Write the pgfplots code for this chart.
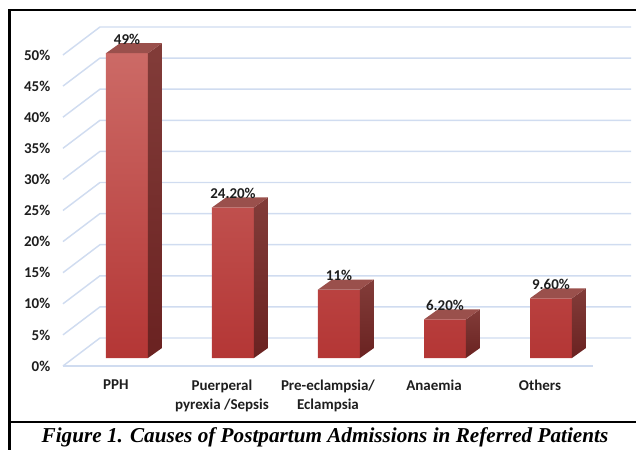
\documentclass[border=0pt]{standalone}
\usepackage{pgfplots}
\usepackage{pgfplotstable}
\pgfplotsset{compat=1.18}
\usepackage{fontspec}
\newfontfamily\carlito{Carlito}
\newfontfamily\capserif{Liberation Serif}

\definecolor{fronttop}{RGB}{204,106,102}
\definecolor{frontbot}{RGB}{180,54,53}
\definecolor{sidetop}{RGB}{130,60,57}
\definecolor{sidebot}{RGB}{106,34,33}
\definecolor{topface}{RGB}{154,80,76}
\definecolor{gridblue}{RGB}{208,220,240}
\definecolor{txt}{RGB}{30,30,30}

\pgfplotstableread{
x val label
0 49 49\%
1 24.2 24.20\%
2 11 11\%
3 6.2 6.20\%
4 9.6 9.60\%
}\causes

\def\hw{0.198}
\def\dx{0.132}
\def\dy{1.608}

\begin{document}
\begin{tikzpicture}
\begin{axis}[
  x=79.5pt, y=4.665pt,
  xmin=-0.68, xmax=4.76, ymin=-1.286, ymax=53.3,
  axis x line*=bottom, axis y line*=left,
  axis line style={draw=none,-},
  major tick length=0pt,
  clip=false,
  ytick={-1.286,3.714,8.714,13.714,18.714,23.714,28.714,33.714,38.714,43.714,48.714},
  yticklabels={0\%,5\%,10\%,15\%,20\%,25\%,30\%,35\%,40\%,45\%,50\%},
  xtick={-0.104,0.896,1.896,2.896,3.896},
  xticklabels={PPH,{Puerperal\\pyrexia /Sepsis},{Pre-eclampsia/\\Eclampsia},Anaemia,Others},
  tick label style={font=\carlito\bfseries\fontsize{11.25}{14.5}\selectfont, text=txt},
  xticklabel style={align=center, yshift=-7pt},
]
% gridlines (back wall + left wall)
\pgfplotsinvokeforeach{0,5,...,50}{
  \draw[gridblue, line width=1.1pt] (axis cs:-0.604,{#1-1.286}) -- (axis cs:-0.255,{#1+3.215}) -- (axis cs:4.755,{#1+3.215});
}
\draw[gridblue, line width=1.1pt] (axis cs:-0.604,-1.286) -- (axis cs:4.396,-1.286);

% front faces
\addplot[ybar, bar width=0.396, draw=none, top color=fronttop, bottom color=frontbot, forget plot] table[x=x, y=val] {\causes};

% side and top faces
\pgfplotsforeachungrouped \i in {0,...,4}{%
  \pgfplotstablegetelem{\i}{val}\of\causes
  \pgfmathsetmacro\va{\pgfplotsretval}%
  \pgfmathsetmacro\xl{\i-\hw}%
  \pgfmathsetmacro\xr{\i+\hw}%
  \pgfmathsetmacro\xrr{\i+\hw+\dx}%
  \pgfmathsetmacro\xlr{\i-\hw+\dx}%
  \pgfmathsetmacro\vb{\va+\dy}%
  \edef\cmd{\noexpand\addplot[forget plot, draw=none, mark=none, top color=sidetop, bottom color=sidebot] coordinates {(\xr,0) (\xrr,\dy) (\xrr,\vb) (\xr,\va)};%
    \noexpand\addplot[forget plot, draw=none, mark=none, fill=topface] coordinates {(\xl,\va) (\xr,\va) (\xrr,\vb) (\xlr,\vb)};}%
  \cmd
}

% data labels
\addplot[draw=none, mark=none, forget plot, nodes near coords, point meta=explicit symbolic,
  every node near coord/.style={anchor=center, yshift=10.5pt, font=\carlito\bfseries\fontsize{11.25}{14}\selectfont, text=txt}]
  table[x=x, y=val, meta=label] {\causes};

% frame and caption
\draw[black, line width=1.7pt, line join=miter] (axis cs:4.802,55.95) -- (axis cs:-1.1085,55.95) -- (axis cs:-1.1085,-14.791);
\draw[black, line width=1.7pt] (axis cs:-1.1085,-10.29) -- (axis cs:4.802,-10.29);
\node[font=\capserif\bfseries\itshape\fontsize{15.9}{17}\selectfont] at (axis cs:1.868,-12.75) {Figure 1. Causes of Postpartum Admissions in Referred Patients};

\coordinate (bl) at (axis cs:-1.198,-14.791);
\coordinate (tr) at (axis cs:4.802,57.556);
\end{axis}
\pgfresetboundingbox
\useasboundingbox (bl) rectangle (tr);
\end{tikzpicture}
\end{document}
